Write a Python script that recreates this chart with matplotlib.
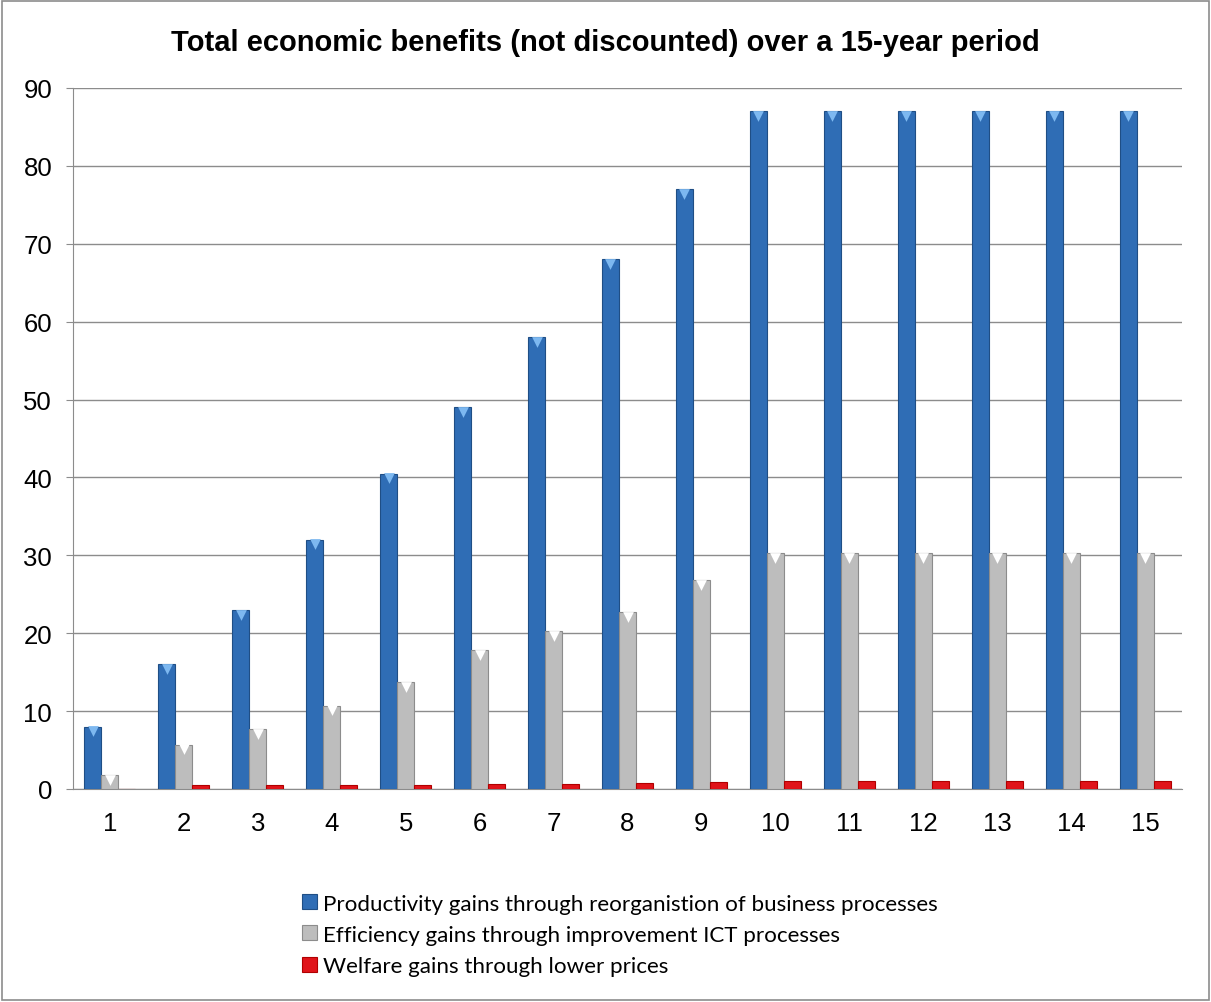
import matplotlib
matplotlib.use("Agg")
import matplotlib.pyplot as plt
from matplotlib.patches import Rectangle
import numpy as np

years = list(range(1, 16))
productivity = [8, 16, 23, 32, 40.5, 49, 58, 68, 77, 87, 87, 87, 87, 87, 87]
efficiency = [1.8, 5.7, 7.7, 10.7, 13.7, 17.8, 20.3, 22.7, 26.8, 30.3, 30.3, 30.3, 30.3, 30.3, 30.3]
welfare = [0, 0.5, 0.5, 0.5, 0.5, 0.6, 0.6, 0.8, 0.85, 1.05, 1.05, 1.05, 1.05, 1.05, 1.05]
labels = ["Productivity gains through reorganistion of business processes",
          "Efficiency gains through improvement ICT processes",
          "Welfare gains through lower prices"]

colors = ["#2F6DB5", "#BDBDBD", "#E0141A"]
edges = ["#1F4E85", "#8C8C8C", "#B00000"]
tops = ["#7DB8F0", "#FFFFFF", "#FF8080"]

fig = plt.figure(figsize=(12.11, 10.03), dpi=100)
ax = fig.add_axes([73 / 1211, 1 - 790 / 1003, (1182 - 73) / 1211, (790 - 89) / 1003])

x = np.array(years)
w = 0.23
series = [productivity, efficiency, welfare]
for i, vals in enumerate(series):
    xs = x + (i - 1) * w
    ax.bar(xs, vals, width=w, color=colors[i], edgecolor=edges[i], linewidth=0.8,
           label=labels[i], zorder=3)
    vv = np.array(vals)
    m = vv > 1.5
    ax.scatter(xs[m], vv[m] - 0.6, marker="v", s=60, color=tops[i], zorder=4, linewidths=0)

ax.set_xlim(0.5, 15.5)
ax.set_ylim(0, 90)
ax.set_yticks(range(0, 91, 10))
ax.set_xticks(years)
ax.tick_params(axis="both", labelsize=18.5, colors="#8C8C8C", labelcolor="black")
ax.tick_params(axis="x", length=0, pad=16)
ax.tick_params(axis="y", length=5, direction="out", pad=10)
for t in ax.get_xticklabels() + ax.get_yticklabels():
    t.set_family("Liberation Sans")
ax.grid(axis="y", color="#8C8C8C", linewidth=1, zorder=0)
for s in ["top", "right"]:
    ax.spines[s].set_visible(False)
ax.spines["left"].set_color("#8C8C8C")
ax.spines["bottom"].set_color("#8C8C8C")

fig.text(0.5, 0.957, "Total economic benefits (not discounted) over a 15-year period",
         ha="center", va="center", fontsize=21, fontweight="bold", family="Liberation Sans")

leg = fig.legend(loc="upper left", bbox_to_anchor=(0.242, 0.117), frameon=False,
                 handlelength=0.65, handleheight=0.65, handletextpad=0.3,
                 labelspacing=0.5, borderaxespad=0, prop={"family": "Lato", "size": 16.1})

fig.add_artist(Rectangle((0.002, 0.002), 0.996, 0.996, transform=fig.transFigure,
                         fill=False, edgecolor="#8C8C8C", linewidth=1.2))

fig.savefig("out.png", dpi=100)
